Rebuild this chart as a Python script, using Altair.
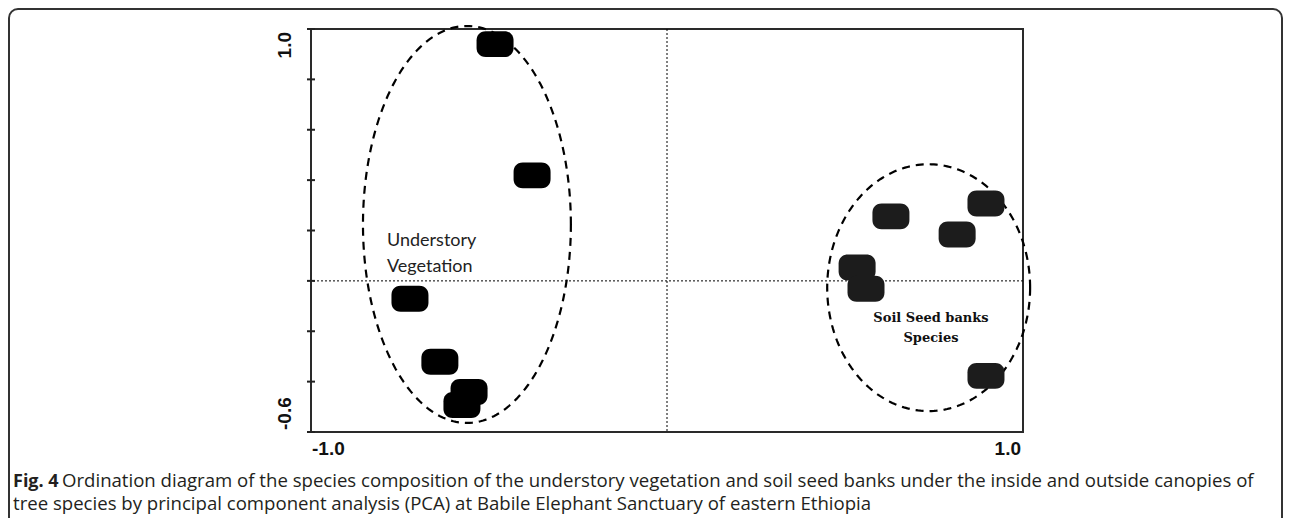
import altair as alt
import numpy as np
import pandas as pd

# ---- data ----
under_x = [-0.483, -0.379, -0.722, -0.638, -0.556, -0.576]
under_y = [0.940, 0.419, -0.071, -0.321, -0.441, -0.493]
soil_x = [0.629, 0.896, 0.815, 0.534, 0.559, 0.896]
soil_y = [0.256, 0.307, 0.184, 0.053, -0.031, -0.377]

# grouping ellipses: centre and semi-axes in data units
ell_names = ["Understory", "Soil"]
ell_cx = [-0.562, 0.735]
ell_cy = [0.224, -0.027]
ell_rx = [0.292, 0.285]
ell_ry = [0.788, 0.490]

y_ticks = [-0.6, -0.4, -0.2, 0.0, 0.2, 0.4, 0.6, 0.8, 1.0]
x_tick_vals = [-1.0, 1.0]
x_tick_labels = ["-1.0", "1.0"]
y_label_vals = [1.0, -0.6]
y_label_text = ["1.0", "-0.6"]

under_label = ["Understory", "Vegetation"]
soil_label = ["Soil Seed banks", "Species"]

caption_bold = "Fig. 4"
caption_1 = ("Ordination diagram of the species composition of the understory vegetation "
             "and soil seed banks under the inside and outside canopies of")
caption_2 = ("tree species by principal component analysis (PCA) at Babile Elephant "
             "Sanctuary of eastern Ethiopia")

XD = [-1.0, 1.0]
YD = [-0.6, 1.0]
xs = alt.Scale(domain=XD, nice=False, zero=False)
ys = alt.Scale(domain=YD, nice=False, zero=False)

pts = pd.DataFrame({
    "x": under_x + soil_x,
    "y": under_y + soil_y,
    "grp": ["Understory"] * len(under_x) + ["Soil"] * len(soil_x),
})

rows = []
for n, cx, cy, rx, ry in zip(ell_names, ell_cx, ell_cy, ell_rx, ell_ry):
    for i, t in enumerate(np.linspace(0, 2 * np.pi, 241)):
        rows.append({"g": n, "i": i, "x": cx + rx * np.cos(t), "y": cy + ry * np.sin(t)})
ell = pd.DataFrame(rows)

blob = ("M -0.5 -0.7 L 0.5 -0.7 C 0.85 -0.7 1 -0.45 1 -0.2 L 1 0.2 C 1 0.45 0.85 0.7 0.5 0.7 "
        "L -0.5 0.7 C -0.85 0.7 -1 0.45 -1 0.2 L -1 -0.2 C -1 -0.45 -0.85 -0.7 -0.5 -0.7 Z")

X = lambda f="x": alt.X(f"{f}:Q", scale=xs, axis=None)
Y = lambda f="y": alt.Y(f"{f}:Q", scale=ys, axis=None)
PX = lambda f="px": alt.X(f"{f}:Q", scale=None, axis=None)
PY = lambda f="py": alt.Y(f"{f}:Q", scale=None, axis=None)

frame = alt.Chart(pd.DataFrame({"px": [-302], "px2": [971], "py": [-20], "py2": [600]})).mark_rect(
    fill=None, stroke="#333333", strokeWidth=2, cornerRadius=9
).encode(x=PX("px"), x2="px2:Q", y=PY("py"), y2="py2:Q")

hline = alt.Chart(pd.DataFrame({"y": [0.0]})).mark_rule(
    color="#000", strokeWidth=1, strokeDash=[2, 2]).encode(y=Y("y"))
vline = alt.Chart(pd.DataFrame({"x": [0.0]})).mark_rule(
    color="#000", strokeWidth=1, strokeDash=[2, 2]).encode(x=X("x"))

ellipses = alt.Chart(ell).mark_line(
    color="#000", strokeWidth=2.2, strokeDash=[8, 6]
).encode(x=X(), y=Y(), detail="g:N", order="i:Q")

points = alt.Chart(pts).mark_point(
    shape=blob, filled=True, size=1369, opacity=1
).encode(
    x=X(), y=Y(),
    color=alt.Color("grp:N", scale=alt.Scale(domain=["Understory", "Soil"],
                                             range=["#000000", "#1c1c1c"]), legend=None),
)

yt = alt.Chart(pd.DataFrame({"y": y_ticks, "px": [-4] * len(y_ticks), "px2": [4] * len(y_ticks)})).mark_rule(
    strokeWidth=2, color="#222"
).encode(y=Y("y"), x=PX("px"), x2="px2:Q")

xlab = alt.Chart(pd.DataFrame({"x": x_tick_vals, "t": x_tick_labels,
                               "py": [430, 430]}))
xlab_l = xlab.transform_filter("datum.x < 0").mark_text(
    font="Liberation Sans", fontWeight="bold", fontSize=19, baseline="bottom",
    align="left", color="#111", dx=1
).encode(x=X(), y=PY(), text="t:N")
xlab_r = xlab.transform_filter("datum.x > 0").mark_text(
    font="Liberation Sans", fontWeight="bold", fontSize=19, baseline="bottom",
    align="right", color="#111", dx=-2
).encode(x=X(), y=PY(), text="t:N")

ylab = alt.Chart(pd.DataFrame({"y": y_label_vals, "t": y_label_text, "px": [-26, -26]}))
ylab_top = ylab.transform_filter("datum.y > 0").mark_text(
    font="Liberation Sans", fontWeight="bold", fontSize=19, angle=270,
    align="right", baseline="middle", color="#111", yOffset=3
).encode(y=Y(), x=PX(), text="t:N")
ylab_bot = ylab.transform_filter("datum.y < 0").mark_text(
    font="Liberation Sans", fontWeight="bold", fontSize=19, angle=270,
    align="left", baseline="middle", color="#111", yOffset=-2
).encode(y=Y(), x=PX(), text="t:N")

lab_under = alt.Chart(pd.DataFrame({"t": under_label, "px": [76, 76], "py": [217, 243]})).mark_text(
    font="Lato", fontSize=18, align="left", baseline="alphabetic", color="#222"
).encode(x=PX(), y=PY(), text="t:N")

lab_soil = alt.Chart(pd.DataFrame({"t": soil_label, "px": [620, 620], "py": [293, 313]})).mark_text(
    font="DejaVu Serif", fontWeight="bold", fontSize=13, align="center",
    baseline="alphabetic", color="#111"
).encode(x=PX(), y=PY(), text="t:N")

cap_b = alt.Chart(pd.DataFrame({"t": [caption_bold], "px": [-298], "py": [458]})).mark_text(
    font="Open Sans", fontWeight="bold", fontSize=18, align="left",
    baseline="alphabetic", color="#231f20"
).encode(x=PX(), y=PY(), text="t:N")
cap_n = alt.Chart(pd.DataFrame({"t": [caption_1, caption_2], "px": [-249, -298],
                                "py": [458, 481]})).mark_text(
    font="Open Sans", fontSize=18.6, align="left", baseline="alphabetic", color="#231f20"
).encode(x=PX(), y=PY(), text="t:N")

chart = alt.layer(
    frame, hline, vline, ellipses, points, yt, xlab_l, xlab_r, ylab_top, ylab_bot,
    lab_under, lab_soil, cap_b, cap_n
).resolve_scale(x="independent", y="independent").properties(
    width=712, height=403,
    autosize=alt.AutoSizeParams(type="none"),
    padding={"left": 303, "top": 21, "right": 261, "bottom": 86},
).configure_view(
    stroke="#2a2a2a", strokeWidth=2
)

chart.save("out.html", embed_options={"renderer": "svg", "actions": False})
